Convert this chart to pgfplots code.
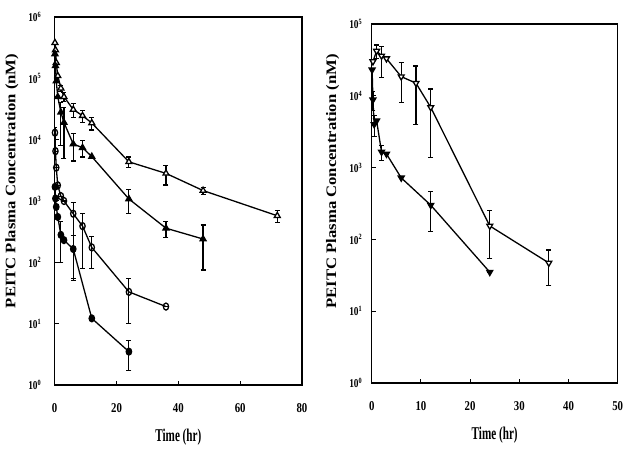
\documentclass[border=0pt]{standalone}
\usepackage{pgfplots}
\pgfplotsset{compat=1.18}
\usepackage{pgfplotstable}
\usepackage{fontspec}
\setmainfont{Liberation Serif}
\usepackage{graphicx}

\pgfplotstableread{
t y ep em
0.083 380000 0 0
0.25 290000 0 0
0.5 180000 0 0
1 110000 0 0
2 69000 8000 8000
3 50000 8000 8000
6 31000 8000 8000
9 24600 5500 5500
12 18700 4300 4300
24 4350 850 850
36 2820 1000 1000
48 1480 200 200
72 575 130 130
}\dataA
\pgfplotstableread{
t y ep em
0.083 250000 0 0
0.25 160000 0 0
0.5 90000 0 0
1 50000 0 0
2 28000 12000 20000
3 19000 14000 14000
6 8500 4000 4000
9 7400 2200 2200
12 5300 0 0
24 1080 460 460
36 360 107 107
48 240 165 165
}\dataB
\pgfplotstableread{
t y ep em
0.083 13000 3000 3000
0.25 6500 0 0
0.5 3500 0 0
1 1800 0 0
2 1200 0 0
3 1000 0 0
6 620 330 570
9 390 240 310
12 175 90 95
24 33 22 23
36 19 0 0
}\dataC
\pgfplotstableread{
t y ep em
0.083 1700 0 0
0.25 1100 0 0
0.5 800 0 0
1 550 0 0
2 280 180 180
3 230 0 0
6 165 110 110
12 12.2 0 0
24 3.5 1.8 1.8
}\dataD
\pgfplotstableread{
t y ep em
0.25 30000 0 0
1 42000 9000 9000
2 36000 12000 18000
3 33000 0 0
6 18500 10500 10500
9 15000 11000 11000
12 6900 5500 5500
24 154 100 100
36 47 24 24
}\dataE
\pgfplotstableread{
t y ep em
0.083 23000 0 0
0.25 8800 2600 2600
0.5 4000 1300 1300
1 4500 0 0
2 1650 400 400
3 1550 0 0
6 720 0 0
12 300 170 170
24 35 0 0
}\dataF

\newcommand\tl[1]{\scalebox{0.78}[1]{10\textsuperscript{#1}}}
\newcommand\xl[1]{\scalebox{0.8}[1]{#1}}

\pgfplotsset{
  peitc/.style={
    scale only axis,
    axis line style={line width=1.5pt},
    tick style={black, line width=1pt},
    major tick length=4pt,
    tick align=inside,
    xtick pos=bottom, ytick pos=left,
    ytick={1,10,100,1000,10000,100000,1000000},
    yticklabels={\tl{0},\tl{1},\tl{2},\tl{3},\tl{4},\tl{5},\tl{6}},
    yticklabel style={font=\bfseries\fontsize{12}{13}\selectfont},
    xticklabel style={font=\bfseries\fontsize{13.5}{15}\selectfont, yshift=-15pt},
    xlabel={\scalebox{0.62}[1]{Time (hr)}},
    xlabel style={font=\bfseries\fontsize{18}{20}\selectfont},
    ylabel={\scalebox{1.15}[1]{PEITC Plasma Concentration (nM)}},
    every axis plot/.append style={black, line width=1.3pt},
  },
  ebar/.style={
    error bars/.cd, y dir=both, y explicit,
    error bar style={line width=1.2pt, black},
    error mark options={rotate=90, mark size=2.5pt, line width=1.2pt, black},
  },
}

\begin{document}
\begin{tikzpicture}
\useasboundingbox (0pt,0pt) rectangle (629pt,452pt);

\begin{axis}[peitc, ymode=log, yminorticks=false,
  at={(54.7pt,67pt)}, anchor=south west,
  width=247.3pt, height=368pt,
  xmin=0, xmax=80, ymin=1, ymax=1000000,
  xtick={0,20,40,60,80},
  xticklabels={\xl{0},\xl{20},\xl{40},\xl{60},\xl{80}},
  yticklabel style={xshift=-10pt},
  every axis y label/.style={at={(rel axis cs:0,0.5)}, xshift=-42.7pt, yshift=20pt, rotate=90, anchor=center, font=\bfseries\fontsize{14.5}{16}\selectfont},
  xlabel style={yshift=-10pt},
]
\addplot[mark=triangle*, mark size=3.4pt, mark options={fill=white, solid}, ebar] table[x=t, y=y, y error plus=ep, y error minus=em] {\dataA};
\addplot[mark=triangle*, mark size=3.4pt, mark options={fill=black, solid}, ebar] table[x=t, y=y, y error plus=ep, y error minus=em] {\dataB};
\addplot[mark=o, mark size=3.5pt, mark options={fill=white, solid, xscale=0.75}, ebar] table[x=t, y=y, y error plus=ep, y error minus=em] {\dataC};
\addplot[mark=*, mark size=3.4pt, mark options={fill=black, solid, xscale=0.8}, ebar] table[x=t, y=y, y error plus=ep, y error minus=em] {\dataD};
\end{axis}

\begin{axis}[peitc, ymode=log, yminorticks=false,
  at={(371.7pt,69pt)}, anchor=south west,
  width=246pt, height=359pt,
  xmin=0, xmax=50, ymin=1, ymax=100000,
  xtick={0,10,20,30,40,50},
  xticklabels={\xl{0},\xl{10},\xl{20},\xl{30},\xl{40},\xl{50}},
  yticklabel style={xshift=-6pt},
  every axis y label/.style={at={(rel axis cs:0,0.5)}, xshift=-39pt, yshift=22pt, rotate=90, anchor=center, font=\bfseries\fontsize{14.5}{16}\selectfont},
  xlabel style={yshift=-10pt},
]
\addplot[mark=triangle*, mark size=3.4pt, mark options={fill=white, solid, rotate=180}, ebar] table[x=t, y=y, y error plus=ep, y error minus=em] {\dataE};
\addplot[mark=triangle*, mark size=3.4pt, mark options={fill=black, solid, rotate=180}, ebar] table[x=t, y=y, y error plus=ep, y error minus=em] {\dataF};
\end{axis}
\end{tikzpicture}
\end{document}
